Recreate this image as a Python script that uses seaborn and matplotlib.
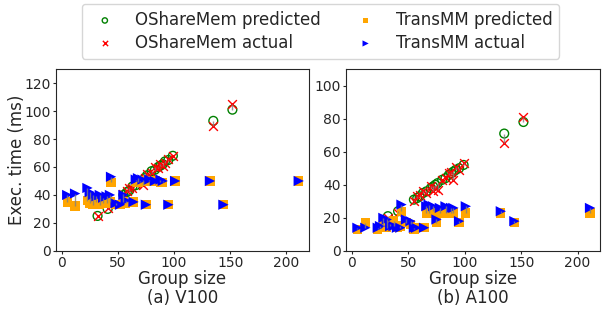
import seaborn as sns
import matplotlib.pyplot as plt
import numpy as np

# OShareMem: group size, predicted and actual time (ms)
osm_size = [32, 41, 55, 58, 60, 63, 66, 70, 72, 74, 76, 80, 83, 86, 88, 90, 92, 95, 99, 135, 152]
v100_osm_pred = [25, 30, 40, 42, 43, 46, 47, 50, 50, 52, 54, 57, 58, 60, 61, 62, 64, 65, 68, 93, 101]
v100_osm_act = [25, 31, 41, 43, 45, 45, 48, 49, 47, 52, 55, 56, 60, 59, 62, 61, 63, 66, 68, 89, 105]
a100_osm_pred = [21, 24, 31, 32, 33, 35, 36, 38, 39, 40, 41, 43, 44, 46, 47, 48, 49, 50, 52, 71, 78]
a100_osm_act = [20, 23, 30, 33, 34, 36, 35, 39, 36, 38, 37, 43, 44, 47, 48, 43, 51, 49, 53, 65, 81]

# TransMM: group size, predicted and actual time (ms)
tmm_size = [5, 12, 23, 25, 28, 31, 34, 37, 40, 43, 44, 48, 52, 55, 57, 64, 66, 68, 72,
            75, 78, 83, 88, 90, 95, 101, 132, 144, 211]
v100_tmm_pred = [35, 32, 36, 34, 33, 35, 33, 34, 34, 35, 49, 33, 33, 35, 34, 35, 50, 49, 50,
                 33, 50, 50, 49, 49, 33, 50, 50, 33, 50]
v100_tmm_act = [40, 41, 45, 42, 40, 39, 40, 38, 39, 40, 53, 34, 33, 40, 36, 35, 51, 52, 51,
                33, 51, 50, 51, 50, 33, 50, 50, 33, 50]
a100_tmm_pred = [13, 17, 13, 14, 15, 14, 16, 18, 14, 15, 24, 17, 16, 13, 14, 14, 23, 23, 24,
                 17, 23, 23, 23, 23, 17, 23, 23, 17, 23]
a100_tmm_act = [14, 14, 14, 15, 20, 19, 15, 15, 14, 14, 28, 19, 18, 14, 14, 14, 27, 28, 27,
                19, 26, 27, 26, 26, 18, 27, 24, 18, 26]

panels = [
    ("(a) V100", v100_osm_pred, v100_osm_act, v100_tmm_pred, v100_tmm_act, 130, [0, 20, 40, 60, 80, 100, 120]),
    ("(b) A100", a100_osm_pred, a100_osm_act, a100_tmm_pred, a100_tmm_act, 110, [0, 20, 40, 60, 80, 100]),
]

sns.set_style("ticks")
plt.rcParams['font.family'] = ['DejaVu Sans']
plt.rcParams['xtick.major.size'] = 2.5
plt.rcParams['ytick.major.size'] = 2.5
plt.rcParams['xtick.major.pad'] = 1.5
plt.rcParams['ytick.major.pad'] = 1.5

fig = plt.figure(figsize=(6.02, 3.2), dpi=100)
ax1 = fig.add_axes([0.093, 0.216, 0.42, 0.568])
ax2 = fig.add_axes([0.575, 0.216, 0.422, 0.568])

for ax, (title, op, oa, tp, ta, ytop, yticks) in zip([ax1, ax2], panels):
    sns.scatterplot(x=osm_size, y=op, ax=ax, marker='o', facecolors='none',
                    edgecolors='green', linewidth=1, s=40, label='OShareMem predicted')
    sns.scatterplot(x=osm_size, y=oa, ax=ax, marker='x', color='red',
                    linewidth=1, s=40, label='OShareMem actual')
    sns.scatterplot(x=tmm_size, y=tp, ax=ax, marker='s', color='orange',
                    edgecolor='none', s=45, label='TransMM predicted')
    sns.scatterplot(x=tmm_size, y=ta, ax=ax, marker='>', color='blue',
                    edgecolor='none', s=55, label='TransMM actual')
    # grey lines from prediction to measurement
    ax.vlines(osm_size, op, oa, color='grey', lw=1, alpha=0.8, zorder=3)
    ax.vlines(tmm_size, tp, ta, color='grey', lw=1, alpha=0.8, zorder=3)

    ax.set_xlim(-5, 220)
    ax.set_ylim(0, ytop)
    ax.set_yticks(yticks)
    ax.set_xticks([0, 50, 100, 150, 200])
    ax.tick_params(labelsize=10)
    ax.set_xlabel("Group size", fontsize=12, labelpad=0)
    ax.text(0.5, -0.26, title, transform=ax.transAxes, ha='center', va='center', fontsize=12)
    ax.get_legend().remove()

ax1.set_ylabel("Exec. time (ms)", fontsize=12)
ax1.yaxis.set_label_coords(-0.12, 0.5)

handles, labels = ax1.get_legend_handles_labels()
fig.legend(handles, labels, loc='upper center', bbox_to_anchor=(0.532, 1.0),
           ncol=2, fontsize=12, frameon=True, columnspacing=1.7, markerscale=0.6,
           handletextpad=0.8, borderpad=0.4, labelspacing=0.3, borderaxespad=0.25)

fig.savefig("out.png", dpi=100)
